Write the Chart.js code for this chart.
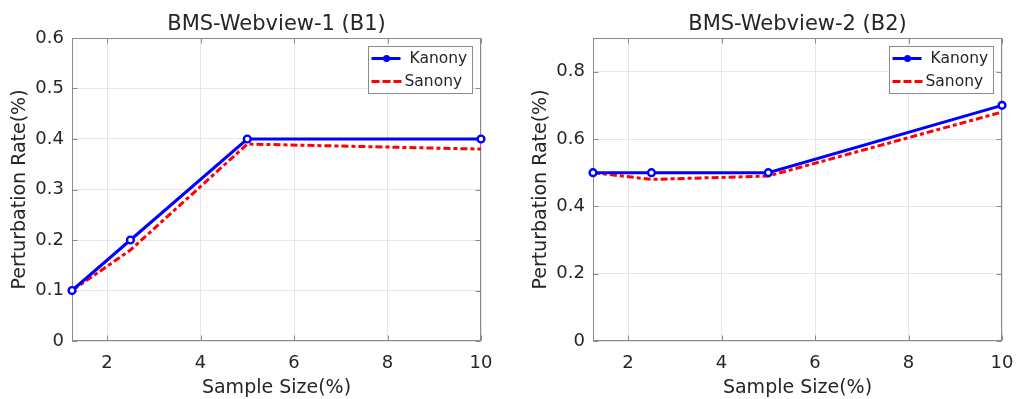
<!DOCTYPE html>
<html><head><meta charset="utf-8">
<script src="https://cdn.jsdelivr.net/npm/chart.js@4"></script>
<style>
body{margin:0;background:#fff;width:1016px;height:399px;overflow:hidden;position:relative}
canvas{position:absolute;top:0}
</style></head><body>
<canvas id="c1" width="508" height="399" style="left:0px"></canvas>
<canvas id="c2" width="508" height="399" style="left:508px"></canvas>
<script>
// ---- data ----
const sampleSizes = [1.25, 2.5, 5, 10];
const b1Kanony = [0.1, 0.2, 0.4, 0.4];
const b1Sanony = [0.1, 0.18, 0.39, 0.38];
const b2Kanony = [0.5, 0.5, 0.5, 0.7];
const b2Sanony = [0.5, 0.48, 0.49, 0.68];
const xTicks = [2, 4, 6, 8, 10];
const b1YTicks = [0, 0.1, 0.2, 0.3, 0.4, 0.5, 0.6];
const b2YTicks = [0, 0.2, 0.4, 0.6, 0.8];
const seriesNames = ['Kanony', 'Sanony'];
const chartTitles = ['BMS-Webview-1 (B1)', 'BMS-Webview-2 (B2)'];
const xTitle = 'Sample Size(%)';
const yTitle = 'Perturbation Rate(%)';

const FONT = "'DejaVu Sans', sans-serif";
const TEXT = '#262626';
const FRAME = '#8a8a8a';

const toXY = (xs, ys) => xs.map((x, i) => ({x, y: ys[i]}));

const framePlugin = {
  id: 'frame',
  beforeDatasetsDraw(chart) {
    const {ctx, chartArea: a, scales: {x, y}} = chart;
    const L = Math.round(a.left) + 0.5, R = Math.round(a.right) - 0.5;
    const T = Math.round(a.top) + 0.5, B = Math.round(a.bottom) - 0.5;
    ctx.save();
    ctx.strokeStyle = FRAME; ctx.lineWidth = 1;
    ctx.strokeRect(L, T, R - L, B - T);
    ctx.beginPath();
    x.ticks.forEach(t => {
      const px = Math.round(x.getPixelForValue(t.value)) + 0.5;
      ctx.moveTo(px, B); ctx.lineTo(px, B - 5);
      ctx.moveTo(px, T); ctx.lineTo(px, T + 5);
    });
    y.ticks.forEach(t => {
      const py = Math.round(y.getPixelForValue(t.value)) + 0.5;
      ctx.moveTo(L, py); ctx.lineTo(L + 5, py);
      ctx.moveTo(R, py); ctx.lineTo(R - 5, py);
    });
    ctx.stroke();
    ctx.restore();
  }
};

const legendPlugin = {
  id: 'boxLegend',
  afterDraw(chart) {
    const {ctx, chartArea: a} = chart;
    const w = 104, h = 47;
    const left = Math.round(a.right - 9 - w) + 0.5, top = Math.round(a.top + 8) + 0.5;
    ctx.save();
    ctx.fillStyle = '#fff';
    ctx.fillRect(left, top, w, h);
    ctx.strokeStyle = '#8a8a8a'; ctx.lineWidth = 1;
    ctx.strokeRect(left, top, w, h);
    const ds = chart.data.datasets;
    // Kanony
    let yy = top + 12;
    ctx.strokeStyle = ds[0].borderColor; ctx.lineWidth = 3; ctx.setLineDash([]);
    ctx.beginPath(); ctx.moveTo(left + 3, yy); ctx.lineTo(left + 32, yy); ctx.stroke();
    ctx.fillStyle = ds[0].borderColor;
    ctx.beginPath(); ctx.arc(left + 18, yy, 3.5, 0, Math.PI * 2); ctx.fill();
    ctx.fillStyle = TEXT; ctx.font = '15.5px ' + FONT; ctx.textBaseline = 'middle'; ctx.textAlign = 'left';
    ctx.fillText(ds[0].label, left + 41, yy);
    // Sanony
    yy = top + 35;
    ctx.strokeStyle = ds[1].borderColor; ctx.lineWidth = 3; ctx.setLineDash([8, 3]);
    ctx.beginPath(); ctx.moveTo(left + 3, yy); ctx.lineTo(left + 33, yy); ctx.stroke();
    ctx.setLineDash([]);
    ctx.fillStyle = TEXT;
    ctx.fillText(ds[1].label, left + 36, yy);
    ctx.restore();
  }
};

function makeChart(id, title, kan, san, yMax, yTicks, yWidth, rightPad, yTitlePad) {
  return new Chart(document.getElementById(id), {
    type: 'line',
    data: {
      datasets: [
        {label: seriesNames[0], data: toXY(sampleSizes, kan), borderColor: '#0000ff', borderWidth: 3,
         pointRadius: 3.4, pointBorderWidth: 2.4, pointBackgroundColor: '#ffffff', pointBorderColor: '#0000ff',
         tension: 0, clip: false},
        {label: seriesNames[1], data: toXY(sampleSizes, san), borderColor: '#ff0000', borderWidth: 3,
         borderDash: [7, 3, 4, 3], pointRadius: 0, tension: 0, clip: false}
      ]
    },
    options: {
      responsive: false, animation: false,
      layout: {padding: {left: 0, right: rightPad, top: 0, bottom: 0}},
      plugins: {
        legend: {display: false}, tooltip: {enabled: false},
        title: {display: true, text: title, fullSize: false, color: TEXT,
                font: {family: FONT, size: 21, weight: 'normal', lineHeight: 1.2},
                padding: {top: 11.5, bottom: 1.3}}
      },
      scales: {
        x: {type: 'linear', min: 1.25, max: 10,
            afterBuildTicks: s => { s.ticks = xTicks.map(v => ({value: v})); },
            afterFit: s => { s.height = 58; s.paddingLeft = 0; s.paddingRight = 0; },
            grid: {color: '#e6e6e6', drawTicks: false},
            border: {display: false},
            ticks: {color: TEXT, font: {family: FONT, size: 18}, padding: 12, maxRotation: 0,
                    callback: v => String(v)},
            title: {display: true, text: xTitle, color: TEXT,
                    font: {family: FONT, size: 19, lineHeight: 1.1}, padding: {top: 0, bottom: 0}}
        },
        y: {type: 'linear', min: 0, max: yMax,
            afterBuildTicks: s => { s.ticks = yTicks.map(v => ({value: v})); },
            afterFit: s => { s.width = yWidth; s.paddingTop = 0; s.paddingBottom = 0; },
            grid: {color: '#e6e6e6', drawTicks: false},
            border: {display: false},
            ticks: {color: TEXT, font: {family: FONT, size: 18}, padding: 8,
                    callback: v => String(Math.round(v * 10) / 10)},
            title: {display: true, text: yTitle, color: TEXT,
                    font: {family: FONT, size: 19, lineHeight: 1.2}, padding: {top: yTitlePad, bottom: 0}}
        }
      }
    },
    plugins: [framePlugin, legendPlugin]
  });
}

makeChart('c1', chartTitles[0], b1Kanony, b1Sanony, 0.6, b1YTicks, 72, 27, 9);
makeChart('c2', chartTitles[1], b2Kanony, b2Sanony, 0.9, b2YTicks, 85, 14, 22);
</script>
</body></html>
